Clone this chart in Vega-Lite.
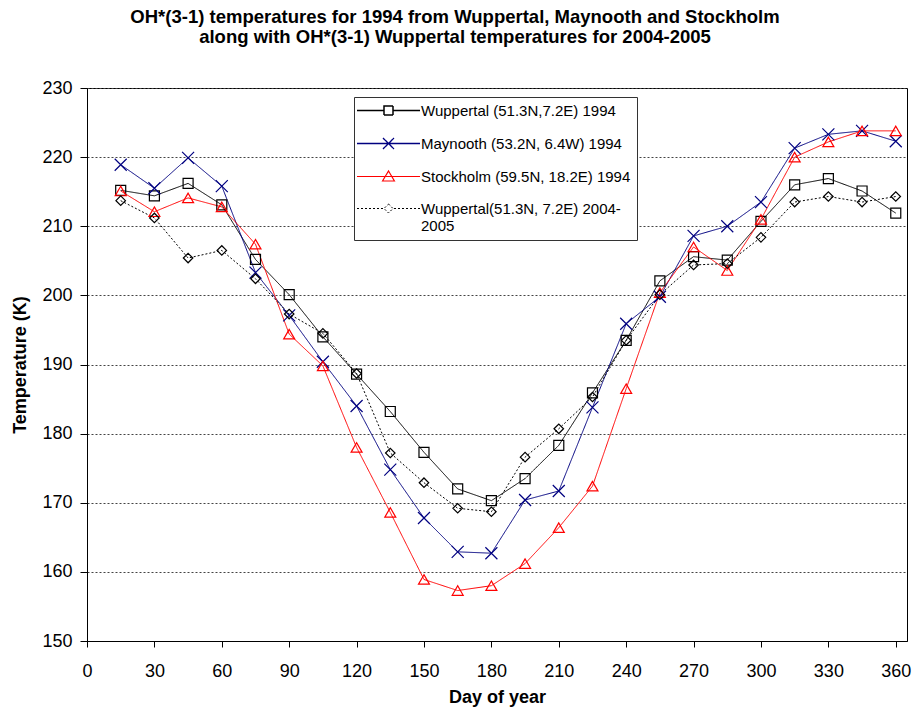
{
  "$schema": "https://vega.github.io/schema/vega-lite/v6.json",
  "width": 820,
  "height": 553,
  "autosize": {"type": "none"},
  "padding": {"left": 87, "top": 88, "right": 5, "bottom": 68},
  "background": "white",
  "config": {
    "font": "Liberation Sans",
    "view": {"stroke": "black", "strokeWidth": 1},
    "axis": {"labelFont": "Liberation Sans", "titleFont": "Liberation Sans", "labelColor": "black", "titleColor": "black", "domainColor": "black", "tickColor": "black"}
  },
  "title": {
    "text": ["OH*(3-1) temperatures for 1994 from Wuppertal, Maynooth and Stockholm", "along with OH*(3-1) Wuppertal temperatures for 2004-2005"],
    "font": "Liberation Sans",
    "fontSize": 18.5,
    "fontWeight": "bold",
    "color": "black",
    "anchor": "middle",
    "frame": "group",
    "dx": -42,
    "offset": 33,
    "lineHeight": 19.5
  },
  "data": {
    "values": [
      {"day": 15, "series": "Wuppertal (51.3N,7.2E) 1994", "T": 215.2},
      {"day": 30, "series": "Wuppertal (51.3N,7.2E) 1994", "T": 214.4},
      {"day": 45, "series": "Wuppertal (51.3N,7.2E) 1994", "T": 216.2},
      {"day": 60, "series": "Wuppertal (51.3N,7.2E) 1994", "T": 213.1},
      {"day": 75, "series": "Wuppertal (51.3N,7.2E) 1994", "T": 205.2},
      {"day": 90, "series": "Wuppertal (51.3N,7.2E) 1994", "T": 200.1},
      {"day": 105, "series": "Wuppertal (51.3N,7.2E) 1994", "T": 194.0},
      {"day": 120, "series": "Wuppertal (51.3N,7.2E) 1994", "T": 188.6},
      {"day": 135, "series": "Wuppertal (51.3N,7.2E) 1994", "T": 183.2},
      {"day": 150, "series": "Wuppertal (51.3N,7.2E) 1994", "T": 177.3},
      {"day": 165, "series": "Wuppertal (51.3N,7.2E) 1994", "T": 172.0},
      {"day": 180, "series": "Wuppertal (51.3N,7.2E) 1994", "T": 170.3},
      {"day": 195, "series": "Wuppertal (51.3N,7.2E) 1994", "T": 173.5},
      {"day": 210, "series": "Wuppertal (51.3N,7.2E) 1994", "T": 178.3},
      {"day": 225, "series": "Wuppertal (51.3N,7.2E) 1994", "T": 185.9},
      {"day": 240, "series": "Wuppertal (51.3N,7.2E) 1994", "T": 193.5},
      {"day": 255, "series": "Wuppertal (51.3N,7.2E) 1994", "T": 202.1},
      {"day": 270, "series": "Wuppertal (51.3N,7.2E) 1994", "T": 205.6},
      {"day": 285, "series": "Wuppertal (51.3N,7.2E) 1994", "T": 205.1},
      {"day": 300, "series": "Wuppertal (51.3N,7.2E) 1994", "T": 210.7},
      {"day": 315, "series": "Wuppertal (51.3N,7.2E) 1994", "T": 216.0},
      {"day": 330, "series": "Wuppertal (51.3N,7.2E) 1994", "T": 216.9},
      {"day": 345, "series": "Wuppertal (51.3N,7.2E) 1994", "T": 215.1},
      {"day": 360, "series": "Wuppertal (51.3N,7.2E) 1994", "T": 211.9},
      {"day": 15, "series": "Maynooth (53.2N, 6.4W) 1994", "T": 218.9},
      {"day": 30, "series": "Maynooth (53.2N, 6.4W) 1994", "T": 215.5},
      {"day": 45, "series": "Maynooth (53.2N, 6.4W) 1994", "T": 219.9},
      {"day": 60, "series": "Maynooth (53.2N, 6.4W) 1994", "T": 215.8},
      {"day": 75, "series": "Maynooth (53.2N, 6.4W) 1994", "T": 203.3},
      {"day": 90, "series": "Maynooth (53.2N, 6.4W) 1994", "T": 197.1},
      {"day": 105, "series": "Maynooth (53.2N, 6.4W) 1994", "T": 190.4},
      {"day": 120, "series": "Maynooth (53.2N, 6.4W) 1994", "T": 184.0},
      {"day": 135, "series": "Maynooth (53.2N, 6.4W) 1994", "T": 174.8},
      {"day": 150, "series": "Maynooth (53.2N, 6.4W) 1994", "T": 167.8},
      {"day": 165, "series": "Maynooth (53.2N, 6.4W) 1994", "T": 162.9},
      {"day": 180, "series": "Maynooth (53.2N, 6.4W) 1994", "T": 162.7},
      {"day": 195, "series": "Maynooth (53.2N, 6.4W) 1994", "T": 170.4},
      {"day": 210, "series": "Maynooth (53.2N, 6.4W) 1994", "T": 171.7},
      {"day": 225, "series": "Maynooth (53.2N, 6.4W) 1994", "T": 183.8},
      {"day": 240, "series": "Maynooth (53.2N, 6.4W) 1994", "T": 195.9},
      {"day": 255, "series": "Maynooth (53.2N, 6.4W) 1994", "T": 199.8},
      {"day": 270, "series": "Maynooth (53.2N, 6.4W) 1994", "T": 208.6},
      {"day": 285, "series": "Maynooth (53.2N, 6.4W) 1994", "T": 210.0},
      {"day": 300, "series": "Maynooth (53.2N, 6.4W) 1994", "T": 213.5},
      {"day": 315, "series": "Maynooth (53.2N, 6.4W) 1994", "T": 221.3},
      {"day": 330, "series": "Maynooth (53.2N, 6.4W) 1994", "T": 223.3},
      {"day": 345, "series": "Maynooth (53.2N, 6.4W) 1994", "T": 223.8},
      {"day": 360, "series": "Maynooth (53.2N, 6.4W) 1994", "T": 222.3},
      {"day": 15, "series": "Stockholm (59.5N, 18.2E) 1994", "T": 215.1},
      {"day": 30, "series": "Stockholm (59.5N, 18.2E) 1994", "T": 212.1},
      {"day": 45, "series": "Stockholm (59.5N, 18.2E) 1994", "T": 214.1},
      {"day": 60, "series": "Stockholm (59.5N, 18.2E) 1994", "T": 212.8},
      {"day": 75, "series": "Stockholm (59.5N, 18.2E) 1994", "T": 207.4},
      {"day": 90, "series": "Stockholm (59.5N, 18.2E) 1994", "T": 194.4},
      {"day": 105, "series": "Stockholm (59.5N, 18.2E) 1994", "T": 189.8},
      {"day": 120, "series": "Stockholm (59.5N, 18.2E) 1994", "T": 178.0},
      {"day": 135, "series": "Stockholm (59.5N, 18.2E) 1994", "T": 168.6},
      {"day": 150, "series": "Stockholm (59.5N, 18.2E) 1994", "T": 158.9},
      {"day": 165, "series": "Stockholm (59.5N, 18.2E) 1994", "T": 157.3},
      {"day": 180, "series": "Stockholm (59.5N, 18.2E) 1994", "T": 158.0},
      {"day": 195, "series": "Stockholm (59.5N, 18.2E) 1994", "T": 161.2},
      {"day": 210, "series": "Stockholm (59.5N, 18.2E) 1994", "T": 166.4},
      {"day": 225, "series": "Stockholm (59.5N, 18.2E) 1994", "T": 172.4},
      {"day": 240, "series": "Stockholm (59.5N, 18.2E) 1994", "T": 186.5},
      {"day": 255, "series": "Stockholm (59.5N, 18.2E) 1994", "T": 200.4},
      {"day": 270, "series": "Stockholm (59.5N, 18.2E) 1994", "T": 207.0},
      {"day": 285, "series": "Stockholm (59.5N, 18.2E) 1994", "T": 203.6},
      {"day": 300, "series": "Stockholm (59.5N, 18.2E) 1994", "T": 211.0},
      {"day": 315, "series": "Stockholm (59.5N, 18.2E) 1994", "T": 220.0},
      {"day": 330, "series": "Stockholm (59.5N, 18.2E) 1994", "T": 222.2},
      {"day": 345, "series": "Stockholm (59.5N, 18.2E) 1994", "T": 223.8},
      {"day": 360, "series": "Stockholm (59.5N, 18.2E) 1994", "T": 223.8},
      {"day": 15, "series": "Wuppertal(51.3N, 7.2E) 2004-2005", "T": 213.7},
      {"day": 30, "series": "Wuppertal(51.3N, 7.2E) 2004-2005", "T": 211.2},
      {"day": 45, "series": "Wuppertal(51.3N, 7.2E) 2004-2005", "T": 205.4},
      {"day": 60, "series": "Wuppertal(51.3N, 7.2E) 2004-2005", "T": 206.5},
      {"day": 75, "series": "Wuppertal(51.3N, 7.2E) 2004-2005", "T": 202.4},
      {"day": 90, "series": "Wuppertal(51.3N, 7.2E) 2004-2005", "T": 197.3},
      {"day": 105, "series": "Wuppertal(51.3N, 7.2E) 2004-2005", "T": 194.5},
      {"day": 120, "series": "Wuppertal(51.3N, 7.2E) 2004-2005", "T": 188.7},
      {"day": 135, "series": "Wuppertal(51.3N, 7.2E) 2004-2005", "T": 177.2},
      {"day": 150, "series": "Wuppertal(51.3N, 7.2E) 2004-2005", "T": 172.9},
      {"day": 165, "series": "Wuppertal(51.3N, 7.2E) 2004-2005", "T": 169.2},
      {"day": 180, "series": "Wuppertal(51.3N, 7.2E) 2004-2005", "T": 168.7},
      {"day": 195, "series": "Wuppertal(51.3N, 7.2E) 2004-2005", "T": 176.6},
      {"day": 210, "series": "Wuppertal(51.3N, 7.2E) 2004-2005", "T": 180.7},
      {"day": 225, "series": "Wuppertal(51.3N, 7.2E) 2004-2005", "T": 185.3},
      {"day": 240, "series": "Wuppertal(51.3N, 7.2E) 2004-2005", "T": 193.5},
      {"day": 255, "series": "Wuppertal(51.3N, 7.2E) 2004-2005", "T": 200.1},
      {"day": 270, "series": "Wuppertal(51.3N, 7.2E) 2004-2005", "T": 204.4},
      {"day": 285, "series": "Wuppertal(51.3N, 7.2E) 2004-2005", "T": 204.6},
      {"day": 300, "series": "Wuppertal(51.3N, 7.2E) 2004-2005", "T": 208.4},
      {"day": 315, "series": "Wuppertal(51.3N, 7.2E) 2004-2005", "T": 213.5},
      {"day": 330, "series": "Wuppertal(51.3N, 7.2E) 2004-2005", "T": 214.3},
      {"day": 345, "series": "Wuppertal(51.3N, 7.2E) 2004-2005", "T": 213.5},
      {"day": 360, "series": "Wuppertal(51.3N, 7.2E) 2004-2005", "T": 214.3}
    ]
  },
  "encoding": {
    "x": {
      "field": "day", "type": "quantitative",
      "scale": {"domain": [0, 365], "nice": false, "zero": false},
      "axis": {
        "values": [0, 30, 60, 90, 120, 150, 180, 210, 240, 270, 300, 330, 360],
        "title": "Day of year", "grid": false,
        "tickSize": 6, "labelPadding": 15, "labelFontSize": 18,
        "titleFontSize": 18, "titleFontWeight": "bold", "titlePadding": 8,
        "labelFlush": false, "labelOverlap": false
      }
    },
    "y": {
      "field": "T", "type": "quantitative",
      "scale": {"domain": [150, 230], "nice": false, "zero": false},
      "axis": {
        "values": [150, 160, 170, 180, 190, 200, 210, 220, 230],
        "title": "Temperature (K)", "grid": true,
        "gridDash": [2, 2], "gridColor": "#444444", "gridWidth": 1,
        "tickSize": 7, "labelPadding": 8, "labelFontSize": 18,
        "titleFontSize": 18, "titleFontWeight": "bold", "titlePadding": 12,
        "labelFlush": false, "labelOverlap": false
      }
    }
  },
  "layer": [
    {
      "mark": {"type": "line", "strokeWidth": 1},
      "encoding": {
        "color": {
          "field": "series", "type": "nominal",
          "scale": {
            "domain": ["Wuppertal (51.3N,7.2E) 1994", "Maynooth (53.2N, 6.4W) 1994", "Stockholm (59.5N, 18.2E) 1994", "Wuppertal(51.3N, 7.2E) 2004-2005"],
            "range": ["#000000", "#000080", "#ff0000", "#000000"]
          },
          "legend": {
            "orient": "none", "legendX": 267, "legendY": 9,
            "title": null,
            "padding": 6, "rowPadding": 16,
            "strokeColor": "#333333", "fillColor": "white",
            "labelFont": "Liberation Sans", "labelFontSize": 15, "labelColor": "black", "labelLimit": 400,
            "symbolSize": 100, "symbolStrokeWidth": 1, "symbolFillColor": "white",
            "symbolOffset": 21, "labelOffset": 25,
            "symbolType": {"expr": "datum.value == 'Wuppertal (51.3N,7.2E) 1994' ? 'M-6.3,0H-0.9M0.9,0H6.3M-0.9,-0.9H0.9V0.9H-0.9Z' : datum.value == 'Maynooth (53.2N, 6.4W) 1994' ? 'M-6.3,0H6.3M-1.1,-1.1L1.1,1.1M-1.1,1.1L1.1,-1.1' : datum.value == 'Stockholm (59.5N, 18.2E) 1994' ? 'M-6.3,0H6.3M0,-1.1L1.2,0.9H-1.2Z' : 'M-6.3,0H-5.9M-5.5,0H-5.1M-4.7,0H-4.3M-3.9,0H-3.5M-3.1,0H-2.7M-2.3,0H-1.9M-1.5,0H-1.1M1.1,0H1.5M1.9,0H2.3M2.7,0H3.1M3.5,0H3.9M4.3,0H4.7M5.1,0H5.5M5.9,0H6.3M0,-0.9L0.9,0L0,0.9L-0.9,0Z'"},
            "labelExpr": "datum.label == 'Wuppertal(51.3N, 7.2E) 2004-2005' ? ['Wuppertal(51.3N, 7.2E) 2004-', '2005'] : datum.label"
          }
        },
        "strokeDash": {
          "field": "series", "type": "nominal",
          "scale": {
            "domain": ["Wuppertal (51.3N,7.2E) 1994", "Maynooth (53.2N, 6.4W) 1994", "Stockholm (59.5N, 18.2E) 1994", "Wuppertal(51.3N, 7.2E) 2004-2005"],
            "range": [[1, 0], [1, 0], [1, 0], [2, 2]]
          },
          "legend": null
        },
        "strokeWidth": {
          "field": "series", "type": "nominal",
          "scale": {
            "domain": ["Wuppertal (51.3N,7.2E) 1994", "Maynooth (53.2N, 6.4W) 1994", "Stockholm (59.5N, 18.2E) 1994", "Wuppertal(51.3N, 7.2E) 2004-2005"],
            "range": [1.5, 1, 1, 1]
          },
          "legend": null
        }
      }
    },
    {
      "mark": {"type": "point", "filled": false, "opacity": 1, "strokeWidth": 1.2},
      "encoding": {
        "color": {"field": "series", "type": "nominal", "legend": null},
        "shape": {
          "condition": [
            {"test": "datum.series == 'Wuppertal (51.3N,7.2E) 1994'", "value": "square"},
            {"test": "datum.series == 'Maynooth (53.2N, 6.4W) 1994'", "value": "M-1,-1L1,1M-1,1L1,-1"},
            {"test": "datum.series == 'Stockholm (59.5N, 18.2E) 1994'", "value": "triangle-up"}
          ],
          "value": "diamond"
        },
        "size": {
          "condition": [
            {"test": "datum.series == 'Wuppertal (51.3N,7.2E) 1994'", "value": 100},
            {"test": "datum.series == 'Maynooth (53.2N, 6.4W) 1994'", "value": 144},
            {"test": "datum.series == 'Stockholm (59.5N, 18.2E) 1994'", "value": 120}
          ],
          "value": 90
        }
      }
    }
  ]
}
